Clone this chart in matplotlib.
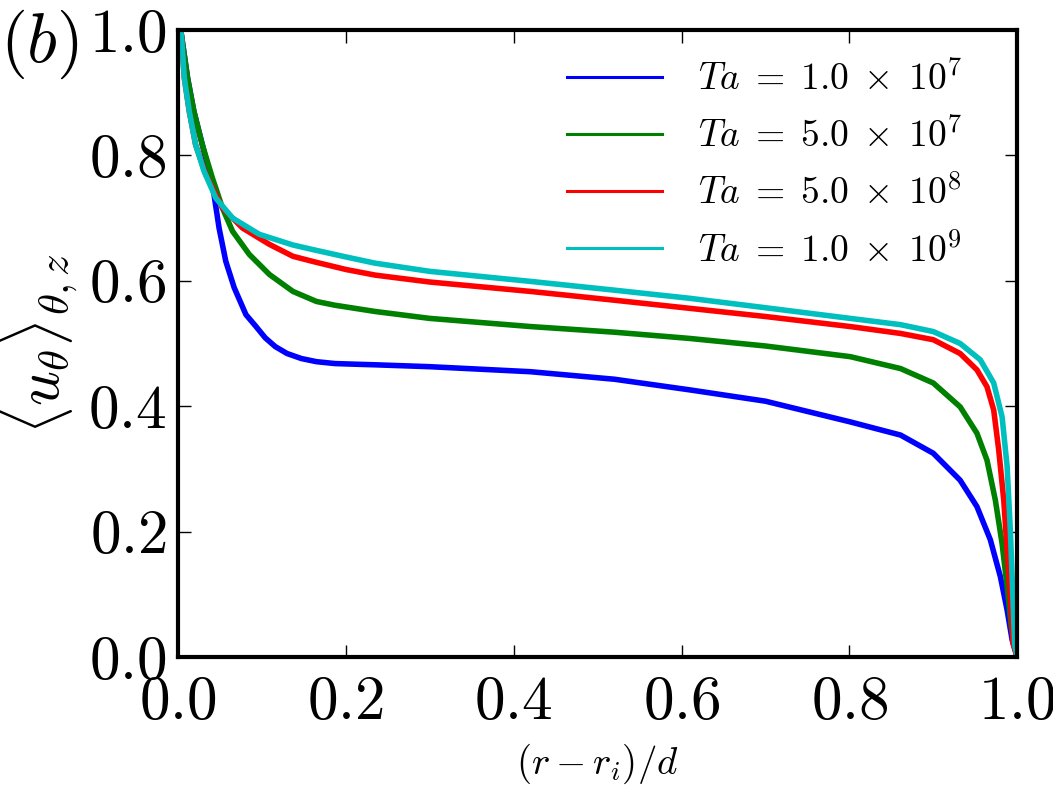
import matplotlib
matplotlib.use('Agg')
import matplotlib.pyplot as plt

plt.rcParams['mathtext.fontset'] = 'cm'
plt.rcParams['font.family'] = 'serif'
plt.rcParams['font.serif'] = ['cmr10', 'DejaVu Serif']
plt.rcParams['axes.formatter.use_mathtext'] = True

# Ta = 1.0e7
x_1e7 = [0.0, 0.004, 0.0115, 0.019, 0.029, 0.038, 0.043, 0.049, 0.057, 0.067, 0.081,
         0.093, 0.104, 0.116, 0.13, 0.147, 0.165, 0.187, 0.21, 0.235, 0.3, 0.42, 0.52,
         0.61, 0.7, 0.801, 0.861, 0.900, 0.932, 0.952, 0.968, 0.980, 0.988, 0.994, 1.0]
y_1e7 = [1.0, 0.993, 0.923, 0.870, 0.817, 0.770, 0.737, 0.684, 0.631, 0.589, 0.546,
         0.527, 0.509, 0.495, 0.484, 0.476, 0.471, 0.468, 0.467, 0.466, 0.463, 0.455, 0.443,
         0.426, 0.408, 0.375, 0.354, 0.325, 0.282, 0.240, 0.187, 0.128, 0.075, 0.027, 0.0]

# Ta = 5.0e7
x_5e7 = [0.0, 0.004, 0.0115, 0.019, 0.029, 0.041, 0.053, 0.065, 0.085, 0.109, 0.137,
         0.165, 0.187, 0.235, 0.3, 0.42, 0.52, 0.61, 0.7, 0.801, 0.861, 0.900, 0.932,
         0.952, 0.964, 0.974, 0.982, 0.988, 0.993, 1.0]
y_5e7 = [1.0, 0.993, 0.923, 0.870, 0.817, 0.764, 0.716, 0.679, 0.642, 0.610, 0.583,
         0.567, 0.561, 0.551, 0.540, 0.527, 0.518, 0.508, 0.496, 0.479, 0.460, 0.437, 0.399,
         0.357, 0.314, 0.250, 0.181, 0.112, 0.048, 0.0]

# Ta = 5.0e8
x_5e8 = [0.0, 0.004, 0.0076, 0.0135, 0.021, 0.033, 0.053, 0.077, 0.109, 0.137, 0.163,
         0.2, 0.235, 0.3, 0.42, 0.52, 0.61, 0.7, 0.801, 0.861, 0.900, 0.932, 0.952,
         0.964, 0.972, 0.978, 0.984, 0.988, 0.992, 0.995, 1.0]
y_5e8 = [1.0, 0.993, 0.923, 0.870, 0.817, 0.770, 0.716, 0.684, 0.658, 0.639, 0.630,
         0.618, 0.609, 0.598, 0.583, 0.569, 0.556, 0.543, 0.527, 0.516, 0.506, 0.484, 0.458,
         0.431, 0.394, 0.330, 0.250, 0.171, 0.091, 0.022, 0.0]

# Ta = 1.0e9
x_1e9 = [0.0, 0.004, 0.0076, 0.0135, 0.021, 0.031, 0.045, 0.065, 0.097, 0.137, 0.163,
         0.2, 0.235, 0.3, 0.42, 0.52, 0.61, 0.7, 0.801, 0.861, 0.900, 0.932, 0.956,
         0.972, 0.982, 0.988, 0.992, 0.995, 0.997, 1.0]
y_1e9 = [1.0, 0.993, 0.923, 0.870, 0.817, 0.775, 0.732, 0.700, 0.674, 0.657, 0.649,
         0.638, 0.628, 0.615, 0.599, 0.585, 0.572, 0.557, 0.540, 0.530, 0.519, 0.500, 0.474,
         0.437, 0.383, 0.304, 0.197, 0.091, 0.02, 0.0]

labels = [r'$Ta\;=\;1.0\;\times\;10^{7}$', r'$Ta\;=\;5.0\;\times\;10^{7}$',
          r'$Ta\;=\;5.0\;\times\;10^{8}$', r'$Ta\;=\;1.0\;\times\;10^{9}$']
colors = ['b', 'g', 'r', 'c']

fig = plt.figure(figsize=(10.53, 7.86), dpi=100)
ax = fig.add_axes([0.169, 0.164, 0.797, 0.798])

series = [(x_1e7, y_1e7), (x_5e7, y_5e7), (x_5e8, y_5e8), (x_1e9, y_1e9)]
for (xs, ys), lab, c in zip(series, labels, colors):
    ax.plot(xs, ys, color=c, lw=4.0, label=lab, solid_joinstyle='round')

ax.set_xlim(0, 1)
ax.set_ylim(0, 1)
ticks = [0.0, 0.2, 0.4, 0.6, 0.8, 1.0]
ax.set_xticks(ticks)
ax.set_yticks(ticks)
ax.set_xticklabels([r'$%.1f$' % t for t in ticks])
ax.set_yticklabels([r'$%.1f$' % t for t in ticks])
ax.tick_params(direction='in', length=9, width=1, labelsize=44, pad=8,
               top=True, right=True)
ax.tick_params(axis='x', pad=13)
for sp in ax.spines.values():
    sp.set_linewidth(3)

ax.set_xlabel(r'$(r-r_i)/d$', fontsize=28, labelpad=8)
ax.set_ylabel(r'$\langle u_{\theta}\rangle_{\theta,z}$', fontsize=44, labelpad=6)

leg = ax.legend(loc='upper right', bbox_to_anchor=(0.975, 1.005), frameon=False,
                fontsize=27, handlelength=2.55, handletextpad=0.95, labelspacing=0.55)
for h in leg.get_lines():
    h.set_linewidth(2.2)

fig.text(0.0, 0.99, r'$(b)$', fontsize=50, va='top', ha='left')

fig.savefig('out.png', dpi=100)
